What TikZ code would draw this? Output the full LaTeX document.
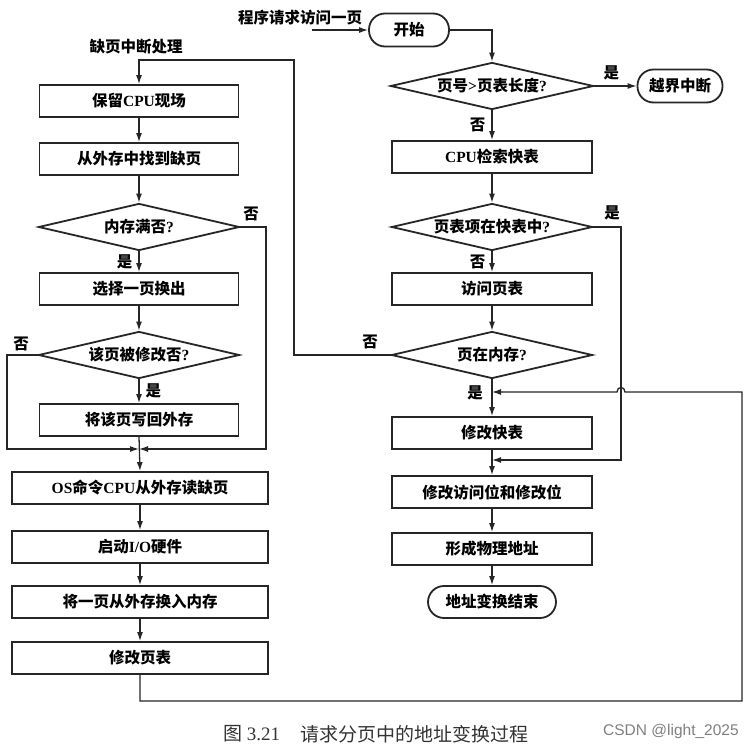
\documentclass[tikz,border=0pt]{standalone}
\usepackage{fontspec}
\setmainfont{Liberation Serif}
\newfontfamily\cjk{Noto Sans CJK SC}
\newfontfamily\wmfont{Liberation Sans}
\usetikzlibrary{shapes.geometric,arrows.meta}
\newcommand\zh[1]{{\cjk\bfseries #1}}
\begin{document}
\begin{tikzpicture}[x=1pt,y=-1pt,
  txt/.style={font=\fontsize{15.5}{18}\selectfont\bfseries},
  line/.style={draw=black!85, line width=1.3pt},
  arr/.style={line, -{Latex[length=9pt,width=6pt]}},
  box/.style={txt, draw=black!85, line width=1.8pt, rectangle, minimum width=199pt, minimum height=32pt, inner sep=0pt},
  widebox/.style={box, minimum width=256pt},
  dec/.style={txt, draw=black!85, line width=1.8pt, diamond, aspect=4.2, minimum width=201pt, minimum height=47pt, inner sep=0pt},
  term/.style={txt, draw=black!85, line width=1.8pt, rectangle, rounded corners=16pt, minimum height=33pt, inner sep=0pt},
  lbl/.style={txt, inner sep=0pt},
  captext/.style={anchor=west, inner sep=0pt, text=black!80, font=\fontsize{19}{22}\selectfont}
]
\path[fill=white] (0,0) rectangle (755,749);
\useasboundingbox (0,0) rectangle (755,749);

% left column
\node[box] (b1) at (139,101) {\zh{保留}CPU\zh{现场}};
\node[box] (b2) at (139,159) {\zh{从外存中找到缺页}};
\node[dec] (d1) at (139,227) {\zh{内存满否}?};
\node[box] (b3) at (139,289) {\zh{选择一页换出}};
\node[dec] (d2) at (139,355) {\zh{该页被修改否}?};
\node[box] (b4) at (139,420) {\zh{将该页写回外存}};
\node[widebox] (b5) at (140,488) {OS\zh{命令}CPU\zh{从外存读缺页}};
\node[widebox] (b6) at (140,547) {\zh{启动}I/O\zh{硬件}};
\node[widebox] (b7) at (140,602) {\zh{将一页从外存换入内存}};
\node[widebox] (b8) at (140,658) {\zh{修改页表}};

% right column
\node[term, minimum width=80pt] (start) at (409,30) {\zh{开始}};
\node[dec, minimum width=203pt] (d3) at (492,86) {\zh{页号}>\zh{页表长度}?};
\node[term, minimum width=85pt] (end1) at (680,86) {\zh{越界中断}};
\node[box, minimum width=200pt] (b9) at (492,157) {CPU\zh{检索快表}};
\node[dec] (d4) at (492,227) {\zh{页表项在快表中}?};
\node[box, minimum width=200pt] (b10) at (492,289) {\zh{访问页表}};
\node[dec] (d5) at (492,355) {\zh{页在内存}?};
\node[box, minimum width=200pt] (b11) at (492,433) {\zh{修改快表}};
\node[box, minimum width=200pt] (b12) at (492,492) {\zh{修改访问位和修改位}};
\node[box, minimum width=200pt] (b13) at (492,549) {\zh{形成物理地址}};
\node[term, minimum width=128pt, minimum height=32pt] (end2) at (492,602) {\zh{地址变换结束}};

% free labels
\node[lbl] (req) at (300,18) {\zh{程序请求访问一页}};
\node[lbl] (intr) at (136,47) {\zh{缺页中断处理}};

% coordinates
\coordinate (reqs) at (312,30);
\coordinate (top1) at (139,60);
\coordinate (top2) at (294,60);
\coordinate (m1) at (294,355);
\coordinate (r1) at (621,227);
\coordinate (r2) at (621,460);
\coordinate (r3) at (492,460);
\coordinate (l1) at (266,227);
\coordinate (l2) at (266,449);
\coordinate (j) at (139,449);
\coordinate (k1) at (7,355);
\coordinate (k2) at (7,449);
\coordinate (q1) at (140,701);
\coordinate (q2) at (742,701);
\coordinate (q3) at (742,392);
\coordinate (h1) at (625,392);
\coordinate (h2) at (617,392);
\coordinate (q4) at (492,392);

% right connectors
\draw[arr] (reqs) -- (start.west);
\draw[arr] (start.east) -| (d3.north);
\draw[arr] (d3.east) -- (end1.west) node[lbl, pos=0.4, above=5pt] {\zh{是}};
\draw[arr] (d3.south) -- (b9.north) node[lbl, midway, left=6pt] {\zh{否}};
\draw[arr] (b9.south) -- (d4.north);
\draw[arr] (d4.south) -- (b10.north) node[lbl, midway, left=6pt] {\zh{否}};
\draw[arr] (d4.east) -- (r1) -- (r2) -- (r3);
\node[lbl] at (612,213) {\zh{是}};
\draw[arr] (b10.south) -- (d5.north);
\draw[arr] (d5.south) -- (b11.north);
\node[lbl] at (475,393) {\zh{是}};
\draw[arr] (b11.south) -- (b12.north);
\draw[arr] (b12.south) -- (b13.north);
\draw[arr] (b13.south) -- (end2.north);
\draw[arr] (d5.west) -- (m1) -- (top2) -- (top1) -- (b1.north);
\node[lbl] at (370,342) {\zh{否}};

% left connectors
\draw[arr] (b1.south) -- (b2.north);
\draw[arr] (b2.south) -- (d1.north);
\draw[arr] (d1.south) -- (b3.north) node[lbl, midway, left=6pt] {\zh{是}};
\draw[arr] (d1.east) -- (l1) -- (l2) -- (j);
\node[lbl] at (251,214) {\zh{否}};
\draw[arr] (b3.south) -- (d2.north);
\draw[arr] (d2.south) -- (b4.north) node[lbl, midway, right=6pt] {\zh{是}};
\draw[arr] (d2.west) -- (k1) -- (k2) -- (j);
\node[lbl] at (21,344) {\zh{否}};
\draw[arr] (b4.south) -- (b5.north);
\draw[arr] (b5.south) -- (b6.north);
\draw[arr] (b6.south) -- (b7.north);
\draw[arr] (b7.south) -- (b8.north);
\draw[arr] (b8.south) -- (q1) -- (q2) -- (q3) -- (h1) .. controls (625,386) and (617,386) .. (h2) -- (q4);

% caption
\node[captext] (cap1) at (223,734) {{\cjk 图} 3.21};
\node[captext] (cap2) at (300,734) {{\cjk 请求分页中的地址变换过程}};
\node[anchor=west, inner sep=0pt, text=black!50, font=\wmfont\fontsize{15.5}{18}\selectfont] (wm) at (603,731) {CSDN @light\_2025};
\end{tikzpicture}
\end{document}
